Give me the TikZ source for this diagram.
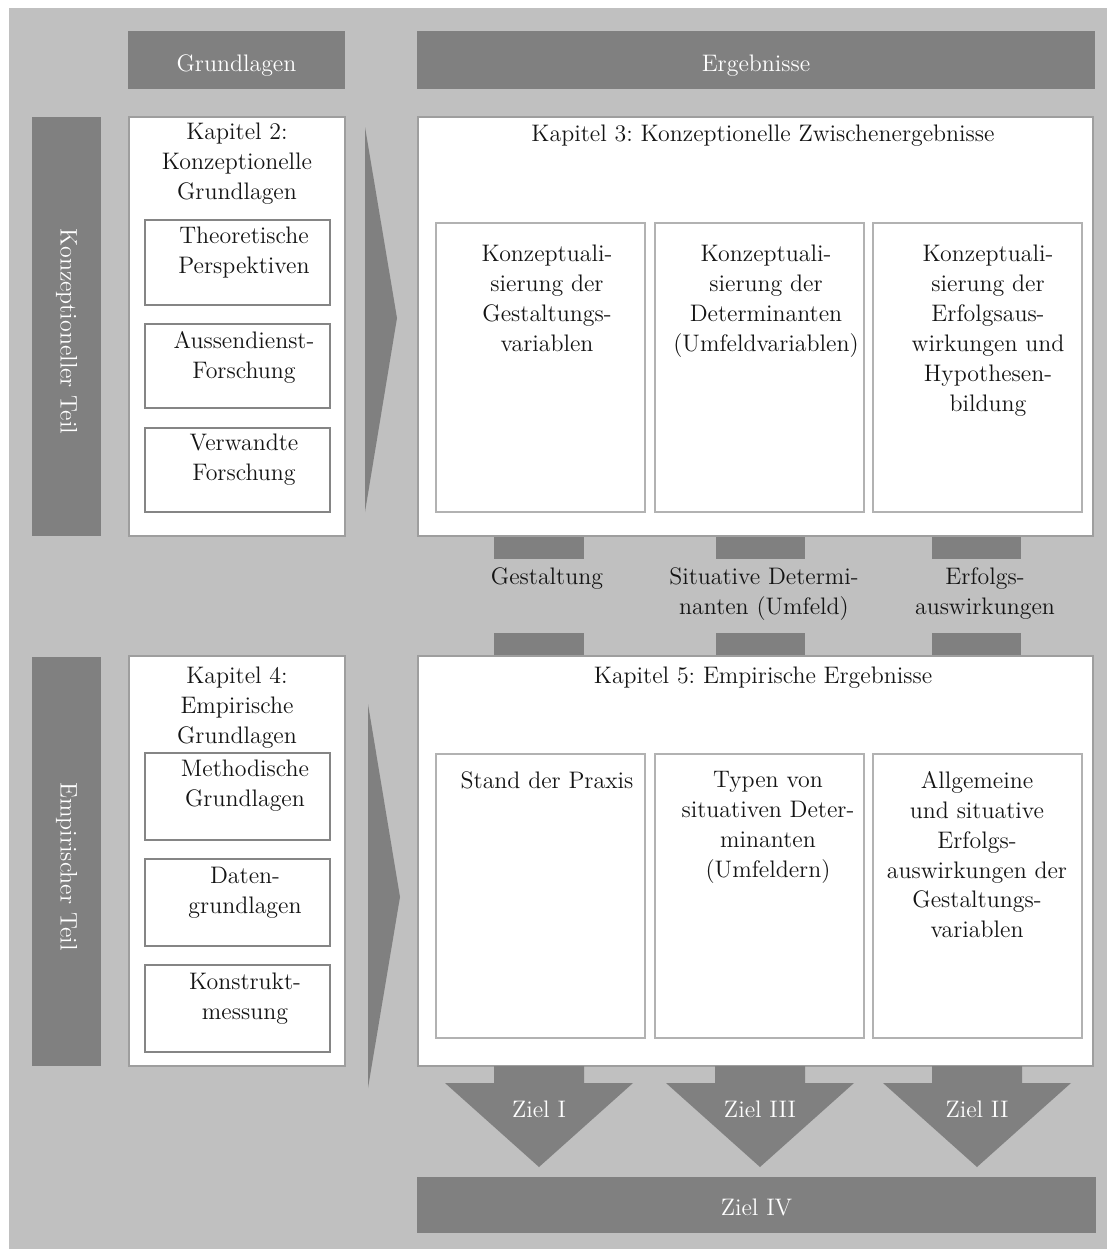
\documentclass[tikz,border=0pt]{standalone}
\usepackage{fontspec}
\frenchspacing
\definecolor{bgc}{gray}{0.753}
\definecolor{dark}{gray}{0.502}
\definecolor{frame}{gray}{0.62}
\definecolor{inframe}{gray}{0.52}
\definecolor{lightframe}{gray}{0.70}
\definecolor{txt}{gray}{0.08}
% rectangular node given by its two corners (in pixel units)
\newcommand\rectnode[6]{%
  \pgfmathsetmacro\bxw{(#5-#3)*0.02}%
  \pgfmathsetmacro\bxh{(#6-#4)*0.02}%
  \node[#2, anchor=north west, minimum width=\bxw cm, minimum height=\bxh cm,
        inner sep=0pt, outer sep=0pt] (#1) at (#3,#4) {};}
% downward block arrow with a label
\newcommand\zielarrow[3]{%
  \fill[dark] ({#2-45},1066) -- ({#2+45},1066) -- ({#2+45},1083) -- ({#2+94},1083)
     -- (#2,1167) -- ({#2-94},1083) -- ({#2-45},1083) -- cycle;
  \node[wlbl] (#1) at (#2,1109) {#3};}
\begin{document}
\begin{tikzpicture}[x=0.02cm,y=-0.02cm,
  lbl/.style={font=\fontsize{13.6}{17}\selectfont, align=center, inner sep=0pt, text=txt, anchor=north},
  wlbl/.style={font=\fontsize{13.6}{17}\selectfont, inner sep=0pt, text=white},
  darkbox/.style={fill=dark},
  panel/.style={fill=white, draw=frame, line width=0.6pt},
  subbox/.style={fill=white, draw=inframe, line width=0.8pt},
  cellbox/.style={fill=white, draw=lightframe, line width=0.8pt}]
\useasboundingbox (0,0) rectangle (1107,1249);
\fill[bgc] (9,8) rectangle (1107,1249);

% column headers
\rectnode{hgrund}{darkbox}{128}{31}{345}{89}
\rectnode{herg}{darkbox}{417}{31}{1095}{89}
\node[wlbl] at ([yshift=-0.12cm]hgrund.center) {Grundlagen};
\node[wlbl] at ([yshift=-0.12cm]herg.center) {Ergebnisse};

% row headers
\rectnode{rkonz}{darkbox}{32}{117}{101}{536}
\rectnode{remp}{darkbox}{32}{657}{101}{1066}
\node[wlbl, rotate=-90] at ([yshift=-0.1cm]rkonz.center) {Konzeptioneller Teil};
\node[wlbl, rotate=-90] at ([yshift=-0.1cm]remp.center) {Empirischer Teil};

% connecting bars between the result panels
\rectnode{ga}{darkbox}{494}{537}{584}{559}
\rectnode{sa}{darkbox}{716}{537}{805}{559}
\rectnode{ea}{darkbox}{932}{537}{1021}{559}
\rectnode{gb}{darkbox}{494}{633}{584}{656}
\rectnode{sb}{darkbox}{716}{633}{805}{656}
\rectnode{eb}{darkbox}{932}{633}{1021}{656}
\node[lbl] (lg) at (547,567) {Gestaltung};
\node[lbl] (ls) at (764,567) {Situative Determi-\\nanten (Umfeld)};
\node[lbl] (le) at (985,567) {Erfolgs-\\auswirkungen};

% chapter 2
\rectnode{k2}{panel}{129}{117}{345}{536}
\node[lbl] at (237,123) {Kapitel 2:\\Konzeptionelle\\Grundlagen};
\rectnode{k2a}{subbox}{145}{220}{330}{305}
\rectnode{k2b}{subbox}{145}{324}{330}{408}
\rectnode{k2c}{subbox}{145}{428}{330}{512}
\node[lbl] at (244,227) {Theoretische\\Perspektiven};
\node[lbl] at (244,331) {Aussendienst-\\Forschung};
\node[lbl] at (244,434) {Verwandte\\Forschung};

% chapter 3
\rectnode{k3}{panel}{418}{117}{1093}{536}
\node[lbl] at (763,125) {Kapitel 3: Konzeptionelle Zwischenergebnisse};
\rectnode{k3a}{cellbox}{436}{223}{645}{512}
\rectnode{k3b}{cellbox}{655}{223}{864}{512}
\rectnode{k3c}{cellbox}{873}{223}{1082}{512}
\node[lbl] at (547,245) {Konzeptuali-\\sierung der\\Gestaltungs-\\variablen};
\node[lbl] at (766,245) {Konzeptuali-\\sierung der\\Determinanten\\(Umfeldvariablen)};
\node[lbl] at (988,245) {Konzeptuali-\\sierung der\\Erfolgsaus-\\wirkungen und\\Hypothesen-\\bildung};

% chapter 4
\rectnode{k4}{panel}{129}{656}{345}{1066}
\node[lbl] at (237,667) {Kapitel 4:\\Empirische\\Grundlagen};
\rectnode{k4a}{subbox}{145}{753}{330}{840}
\rectnode{k4b}{subbox}{145}{859}{330}{946}
\rectnode{k4c}{subbox}{145}{965}{330}{1052}
\node[lbl] at (245,760) {Methodische\\Grundlagen};
\node[lbl] at (245,867) {Daten-\\grundlagen};
\node[lbl] at (245,973) {Konstrukt-\\messung};

% chapter 5
\rectnode{k5}{panel}{418}{656}{1093}{1066}
\node[lbl] at (763,667) {Kapitel 5: Empirische Ergebnisse};
\rectnode{k5a}{cellbox}{436}{754}{645}{1038}
\rectnode{k5b}{cellbox}{655}{754}{864}{1038}
\rectnode{k5c}{cellbox}{873}{754}{1082}{1038}
\node[lbl] at (547,771) {Stand der Praxis};
\node[lbl] at (768,771) {Typen von\\situativen Deter-\\minanten\\(Umfeldern)};
\node[lbl] at (977,771) {Allgemeine\\und situative\\Erfolgs-\\auswirkungen der\\Gestaltungs-\\variablen};

% transfer arrows from foundations to results
\fill[dark] (365,127) -- (397,318) -- (365,512) -- cycle;
\fill[dark] (368,704) -- (400,897) -- (368,1088) -- cycle;

% objectives
\zielarrow{z1}{539}{Ziel I}
\zielarrow{z3}{760}{Ziel III}
\zielarrow{z2}{977}{Ziel II}
\rectnode{z4}{darkbox}{417}{1177}{1096}{1233}
\node[wlbl] at ([yshift=-0.04cm]z4.center) {Ziel IV};
\end{tikzpicture}
\end{document}
